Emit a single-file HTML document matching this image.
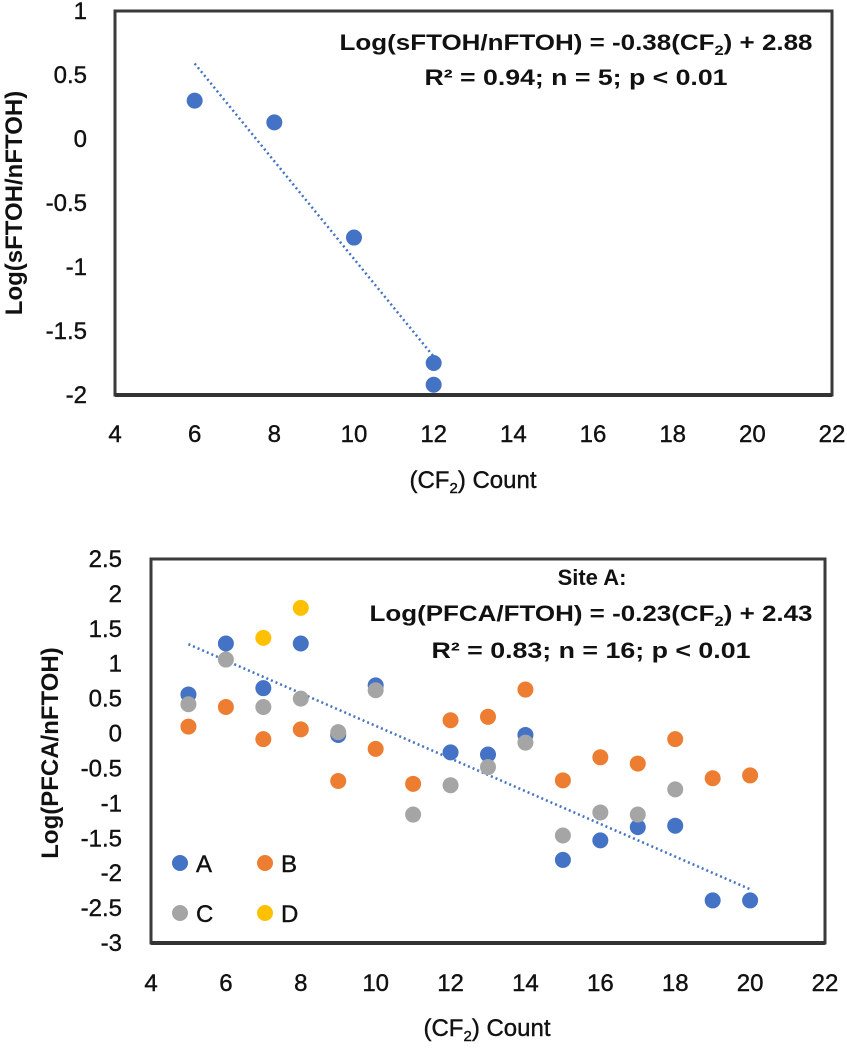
<!DOCTYPE html>
<html><head><meta charset="utf-8"><style>
body{margin:0;background:#fff}
svg text{font-family:"Liberation Sans",sans-serif;fill:#111}
.tick{stroke:#111;stroke-width:0.4}
</style></head><body>
<svg id="figure" width="847" height="1050" viewBox="0 0 847 1050" xmlns="http://www.w3.org/2000/svg">
<g id="topG"></g>
<g id="botG"></g>
</svg>
<script>
// Top chart data
const topX = [6, 8, 10, 12, 12];
const topY = [0.30, 0.13, -0.77, -1.75, -1.92];
const topTrendX = [6, 12];
const topTrendY = [0.59, -1.70];
const topYTicks = [1, 0.5, 0, -0.5, -1, -1.5, -2];
const topYTickLabels = ["1", "0.5", "0", "-0.5", "-1", "-1.5", "-2"];
const xTicks = [4, 6, 8, 10, 12, 14, 16, 18, 20, 22];
const xTickLabels = ["4", "6", "8", "10", "12", "14", "16", "18", "20", "22"];
// Bottom chart data
const aX = [5,6,7,8,9,10,12,13,14,15,16,17,18,19,20];
const aY = [0.56,1.29,0.65,1.29,-0.02,0.69,-0.27,-0.30,-0.02,-1.81,-1.53,-1.34,-1.32,-2.39,-2.39];
const bX = [5,6,7,8,9,10,11,12,13,14,15,16,17,18,19,20];
const bY = [0.10,0.38,-0.08,0.06,-0.68,-0.22,-0.72,0.19,0.24,0.63,-0.67,-0.34,-0.43,-0.08,-0.64,-0.60];
const cX = [5,6,7,8,9,10,11,12,13,14,15,16,17,18];
const cY = [0.42,1.06,0.38,0.50,0.02,0.62,-1.16,-0.74,-0.48,-0.13,-1.46,-1.13,-1.16,-0.80];
const dX = [7,8];
const dY = [1.37,1.80];
const botTrendX = [5, 20];
const botTrendY = [1.28, -2.23];
const botYTicks = [2.5,2,1.5,1,0.5,0,-0.5,-1,-1.5,-2,-2.5,-3];
const botYTickLabels = ["2.5","2","1.5","1","0.5","0","-0.5","-1","-1.5","-2","-2.5","-3"];

const NS="http://www.w3.org/2000/svg";
function mk(parent,tag,attrs,text){const e=document.createElementNS(NS,tag);for(const k in attrs)e.setAttribute(k,attrs[k]);if(text!==undefined)e.textContent=text;parent.appendChild(e);return e;}

function drawChart(g,cfg){
  const sx=v=>cfg.x0+(v-4)/(22-4)*(cfg.x1-cfg.x0);
  const sy=v=>cfg.y0+(cfg.ymax-v)/(cfg.ymax-cfg.ymin)*(cfg.y1-cfg.y0);
  const box=mk(g,'rect',{x:cfg.x0,y:cfg.y0,width:cfg.x1-cfg.x0,height:cfg.y1-cfg.y0,fill:'none',stroke:'#3a3a3a','stroke-width':3});
  
  
  const bl=mk(g,'line',{x1:cfg.x0,y1:cfg.y1,x2:cfg.x1,y2:cfg.y1,stroke:'#333','stroke-width':4});
  
  
  cfg.yt.forEach((v,i)=>{const t=mk(g,'text',{x:cfg.ylx,y:sy(v)+8,'text-anchor':'end','font-size':24,'class':'tick'},cfg.ytl[i]);
    
    });
  xTicks.forEach((v,i)=>{const t=mk(g,'text',{x:sx(v),y:cfg.xly,'text-anchor':'middle','font-size':24,'class':'tick'},xTickLabels[i]);
    
    });
  const tr=mk(g,'line',{x1:sx(cfg.tx[0]),y1:sy(cfg.ty[0]),x2:sx(cfg.tx[1]),y2:sy(cfg.ty[1]),stroke:'#4472c4','stroke-width':2.5,'stroke-dasharray':'2 3'});
  
  
  cfg.series.forEach(s=>{s.x.forEach((xv,i)=>{const c=mk(g,'circle',{cx:sx(xv),cy:sy(s.y[i]),r:8,fill:s.color});
    
    });});
  const xt=mk(g,'text',{x:cfg.xtx,y:cfg.xty,'text-anchor':'middle','font-size':24,'class':'tick'});
  
  
  xt.innerHTML='(CF<tspan font-size="15" dy="5">2</tspan><tspan dy="-5">) Count</tspan>';
  const yt=mk(g,'text',{x:0,y:0,'text-anchor':'middle','font-size':24,'font-weight':'bold',transform:'translate('+cfg.ytx+','+cfg.yty+') rotate(-90)'},cfg.ytitle);
  
  
}

const topG=document.getElementById('topG');
drawChart(topG,{x0:115,x1:832,y0:11,y1:395,ymax:1,ymin:-2,yt:topYTicks,ytl:topYTickLabels,ylx:87,xly:442,
  tx:topTrendX,ty:topTrendY,series:[{name:'a',x:topX,y:topY,color:'#4472c4'}],
  xtx:473,xty:488,ytx:22,yty:203,ytitle:'Log(sFTOH/nFTOH)'});
let e=mk(topG,'text',{x:576,y:50,'text-anchor':'middle','font-size':22,'font-weight':'bold',textLength:473,lengthAdjust:'spacingAndGlyphs'});


e.innerHTML='Log(sFTOH/nFTOH) = -0.38(CF<tspan font-size="14" dy="5">2</tspan><tspan dy="-5">) + 2.88</tspan>';
e=mk(topG,'text',{x:576,y:85,'text-anchor':'middle','font-size':22,'font-weight':'bold',textLength:303,lengthAdjust:'spacingAndGlyphs'},'R² = 0.94; n = 5; p < 0.01');



const botG=document.getElementById('botG');
drawChart(botG,{x0:151,x1:825,y0:559,y1:943,ymax:2.5,ymin:-3,yt:botYTicks,ytl:botYTickLabels,ylx:122,xly:991,
  tx:botTrendX,ty:botTrendY,series:[{name:'a',x:aX,y:aY,color:'#4472c4'},{name:'b',x:bX,y:bY,color:'#ed7d31'},{name:'c',x:cX,y:cY,color:'#a5a5a5'},{name:'d',x:dX,y:dY,color:'#ffc000'}],
  xtx:487,xty:1036,ytx:58,yty:753,ytitle:'Log(PFCA/nFTOH)'});
e=mk(botG,'text',{x:592,y:585,'text-anchor':'middle','font-size':22,'font-weight':'bold'},'Site A:');


e=mk(botG,'text',{x:591,y:621,'text-anchor':'middle','font-size':22,'font-weight':'bold',textLength:443,lengthAdjust:'spacingAndGlyphs'});


e.innerHTML='Log(PFCA/FTOH) = -0.23(CF<tspan font-size="14" dy="5">2</tspan><tspan dy="-5">) + 2.43</tspan>';
e=mk(botG,'text',{x:591,y:658,'text-anchor':'middle','font-size':22,'font-weight':'bold',textLength:319,lengthAdjust:'spacingAndGlyphs'},'R² = 0.83; n = 16; p < 0.01');


const legNames=['A','B','C','D'],legCols=['#4472c4','#ed7d31','#a5a5a5','#ffc000'],legPx=[180,265,180,265],legPy=[863,863,913,913];
legNames.forEach((n,i)=>{
  const c=mk(botG,'circle',{cx:legPx[i],cy:legPy[i],r:8,fill:legCols[i]});
  
  
  const t=mk(botG,'text',{x:legPx[i]+16,y:legPy[i]+9,'font-size':24,'class':'tick'},n);
  
  
});
</script>
</body></html>
